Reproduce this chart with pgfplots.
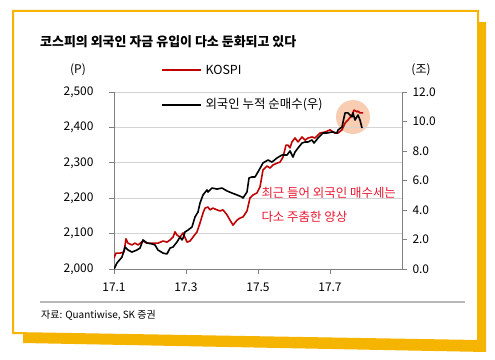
\documentclass[border=0pt]{standalone}
\usepackage{fontspec}
\setmainfont{Noto Sans CJK KR}
\usepackage{pgfplots}
\pgfplotsset{compat=1.18}
\definecolor{gold}{RGB}{245,180,0}
\definecolor{kred}{RGB}{192,0,0}
\definecolor{annred}{RGB}{235,25,50}
\definecolor{gridgray}{RGB}{212,212,212}
\definecolor{axgray}{RGB}{128,128,128}
\definecolor{circ}{RGB}{248,205,178}
\pgfplotsset{
  common/.style={
    at={(114bp,90bp)}, anchor=south west, scale only axis,
    width=288bp, height=177bp, xmin=0, xmax=8,
    tick align=outside, major tick length=5bp,
    axis line style={axgray, line width=1bp},
    tick style={axgray, line width=0.8bp},
    /pgf/number format/assume math mode=true,
    ticklabel style={font=\fontsize{12}{14}\selectfont},
  }
}
\begin{document}
\begin{tikzpicture}[x=1bp,y=1bp]
\useasboundingbox (0,0) rectangle (495,359);
\fill[white] (0,0) rectangle (495,359);
\fill[gold] (23,337) -- (486,337) -- (486,7) -- (23,16) -- cycle;
\filldraw[fill=white, draw=gold, line width=2bp] (13,348) -- (478,348) -- (478,18) -- (13,26) -- cycle;
\node[anchor=west, font=\bfseries\fontsize{13}{15}\selectfont, inner sep=0] at (40,317) {코스피의 외국인 자금 유입이 다소 둔화되고 있다};
\draw[black!28, line width=1.5bp] (40,57) -- (465,57);
\node[anchor=west, font=\fontsize{10}{12}\selectfont, inner sep=0] at (41,44) {자료: Quantiwise, SK 증권};
\fill[circ] (353,242) circle (17);

\begin{axis}[common,
  ymin=2000, ymax=2500,
  axis x line*=bottom, axis y line*=left,
  xtick={0,2,4,6}, xticklabels={17.1,17.3,17.5,17.7},
  xticklabel style={yshift=-5bp},
  ytick={2000,2100,2200,2300,2400,2500},
  yticklabel style={xshift=-12bp, /pgf/number format/.cd, 1000 sep={,}},
  ymajorgrids, grid style={gridgray, line width=0.8bp},
]
\addplot[kred, line width=1.6bp, line join=round] coordinates {
(0,2031)(0.056,2045)(0.167,2045)(0.278,2048)(0.333,2085)(0.389,2073)(0.5,2068)(0.583,2073)
(0.667,2068)(0.806,2079)(0.917,2073)(1.0,2073)(1.139,2073)(1.222,2073)(1.361,2079)(1.472,2076)
(1.556,2082)(1.639,2090)(1.694,2105)(1.75,2096)(1.833,2090)(1.917,2102)(2.028,2076)(2.111,2079)
(2.194,2090)(2.306,2105)(2.389,2130)(2.472,2158)(2.528,2172)(2.611,2175)(2.667,2167)(2.75,2172)
(2.861,2167)(2.944,2164)(3.028,2167)(3.139,2153)(3.222,2138)(3.306,2124)(3.417,2138)(3.5,2144)
(3.583,2147)(3.694,2164)(3.778,2201)(3.861,2209)(3.972,2215)(4.056,2232)(4.139,2280)(4.25,2291)
(4.333,2285)(4.417,2294)(4.528,2299)(4.611,2302)(4.694,2316)(4.778,2350)(4.833,2350)(4.889,2342)
(4.944,2359)(5.028,2370)(5.111,2359)(5.222,2373)(5.306,2364)(5.389,2370)(5.5,2373)(5.583,2370)
(5.722,2384)(5.861,2387)(6.0,2393)(6.139,2384)(6.222,2384)(6.333,2393)(6.417,2412)(6.5,2421)
(6.611,2435)(6.667,2449)(6.75,2444)(6.778,2446)(6.833,2441)(6.917,2441)
};
\end{axis}

\begin{axis}[common,
  ymin=0, ymax=12,
  axis x line=none, axis y line*=right,
  ytick={0,2,4,6,8,10,12},
  yticklabel style={xshift=2bp, /pgf/number format/.cd, fixed, fixed zerofill, precision=1},
]
\addplot[black, line width=1.6bp, line join=round] coordinates {
(0,0)(0.083,0.41)(0.222,0.81)(0.306,1.49)(0.389,1.29)(0.5,1.15)(0.639,1.29)(0.722,1.42)
(0.806,1.97)(0.917,1.76)(1.056,1.70)(1.139,1.63)(1.222,1.29)(1.361,1.08)(1.472,1.02)(1.556,1.42)
(1.639,1.49)(1.75,1.83)(1.833,2.17)(1.889,1.97)(1.917,2.10)(1.972,2.51)(2.056,2.64)(2.167,2.85)
(2.25,3.53)(2.333,3.86)(2.389,4.47)(2.472,5.02)(2.583,5.36)(2.611,5.22)(2.722,5.49)(2.861,5.42)
(3.0,5.49)(3.139,5.29)(3.278,5.15)(3.417,5.02)(3.556,4.88)(3.583,4.81)(3.639,5.02)(3.694,5.22)
(3.75,6.17)(3.833,6.24)(3.917,6.24)(4.0,6.58)(4.139,7.19)(4.278,7.39)(4.389,7.25)(4.528,7.53)
(4.667,7.73)(4.806,7.73)(4.889,8.00)(4.972,7.59)(5.028,7.93)(5.111,8.20)(5.222,8.54)(5.306,8.61)
(5.389,8.61)(5.5,8.75)(5.556,8.54)(5.667,8.88)(5.806,9.22)(5.917,9.22)(6.056,9.29)(6.194,9.22)
(6.222,9.42)(6.333,9.63)(6.417,10.58)(6.5,10.58)(6.611,10.31)(6.639,10.58)(6.694,10.10)(6.778,10.44)
(6.833,10.10)(6.889,9.56)
};
\end{axis}

\draw[kred, line width=2.5bp] (162,289) -- (201,289);
\node[anchor=west, font=\fontsize{12.5}{14}\selectfont] at (202,289) {KOSPI};
\draw[black, line width=2.5bp] (162,254) -- (201,254);
\node[anchor=west, font=\fontsize{12.5}{14}\selectfont] at (202,254) {외국인 누적 순매수(우)};
\node[font=\fontsize{12}{14}\selectfont] at (78,289) {(P)};
\node[font=\fontsize{12}{14}\selectfont] at (421,289) {(조)};
\node[anchor=west, text=annred, font=\fontsize{12.5}{14}\selectfont] at (258,166) {최근 들어 외국인 매수세는};
\node[anchor=west, text=annred, font=\fontsize{12.5}{14}\selectfont] at (258,142) {다소 주춤한 양상};
\end{tikzpicture}
\end{document}
